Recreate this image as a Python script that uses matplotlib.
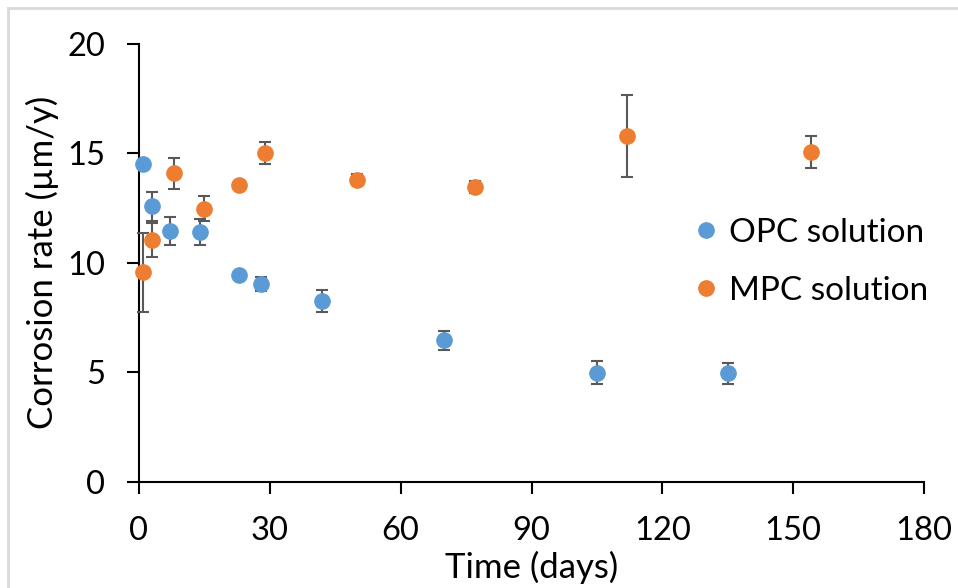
import matplotlib
matplotlib.use('Agg')
import matplotlib.pyplot as plt
from matplotlib.lines import Line2D

plt.rcParams['font.family'] = ['Lato', 'DejaVu Sans']

# OPC solution
opc_days = [1, 3, 7, 14, 23, 28, 42, 70, 105, 135]
opc_rate = [14.5, 12.58, 11.46, 11.4, 9.45, 9.04, 8.27, 6.46, 4.98, 4.95]
opc_err = [0.05, 0.65, 0.64, 0.58, 0.1, 0.33, 0.5, 0.44, 0.54, 0.47]

# MPC solution
mpc_days = [1, 3, 8, 15, 23, 29, 50, 77, 112, 154]
mpc_rate = [9.57, 11.04, 14.09, 12.46, 13.57, 15.0, 13.8, 13.45, 15.78, 15.05]
mpc_err = [1.8, 0.78, 0.7, 0.57, 0.1, 0.5, 0.25, 0.28, 1.88, 0.74]

blue = '#5B9BD5'
orange = '#ED7D31'
ecol = '#595959'

fig = plt.figure(figsize=(9.58, 5.88), dpi=100)
ax = fig.add_axes([139/958, 1 - 481.5/588, 785/958, 437.5/588])

for x, y, e, c, lab in [(opc_days, opc_rate, opc_err, blue, 'OPC solution'),
                        (mpc_days, mpc_rate, mpc_err, orange, 'MPC solution')]:
    ax.errorbar(x, y, yerr=e, fmt='o', color=c, ms=11, mec=c,
                ecolor=ecol, elinewidth=1.5, capsize=4, capthick=1.5,
                label=lab, clip_on=False, zorder=3)

ax.set_xlim(0, 180)
ax.set_ylim(0, 20)
ax.set_xticks(range(0, 181, 30))
ax.set_yticks(range(0, 21, 5))

for s in ['top', 'right']:
    ax.spines[s].set_visible(False)
for s in ['left', 'bottom']:
    ax.spines[s].set_linewidth(1.5)
    ax.spines[s].set_color('black')

ax.tick_params(axis='both', direction='out', length=8.5, width=1.5,
               labelsize=23.5, pad=16, colors='black')

ax.set_xlabel('Time (days)', fontsize=25, labelpad=4)
ax.set_ylabel('Corrosion rate (\u00b5m/y)', fontsize=25, labelpad=6)

handles, labels = ax.get_legend_handles_labels()
handles = [h[0] for h in handles]
ax.legend(handles, labels, loc='center left', bbox_to_anchor=(689/958, 1 - 262/588),
          bbox_transform=fig.transFigure, frameon=False, fontsize=24,
          handlelength=1.0, handletextpad=0.2, borderpad=0, borderaxespad=0,
          labelspacing=0.85)

# light frame of the original chart area
fig.add_artist(Line2D([8/958, 1], [1 - 8/588, 1 - 8/588], transform=fig.transFigure,
                      color='#D9D9D9', lw=2))
fig.add_artist(Line2D([8/958, 8/958], [0, 1 - 8/588], transform=fig.transFigure,
                      color='#D9D9D9', lw=2))

fig.savefig('out.png', dpi=100)
